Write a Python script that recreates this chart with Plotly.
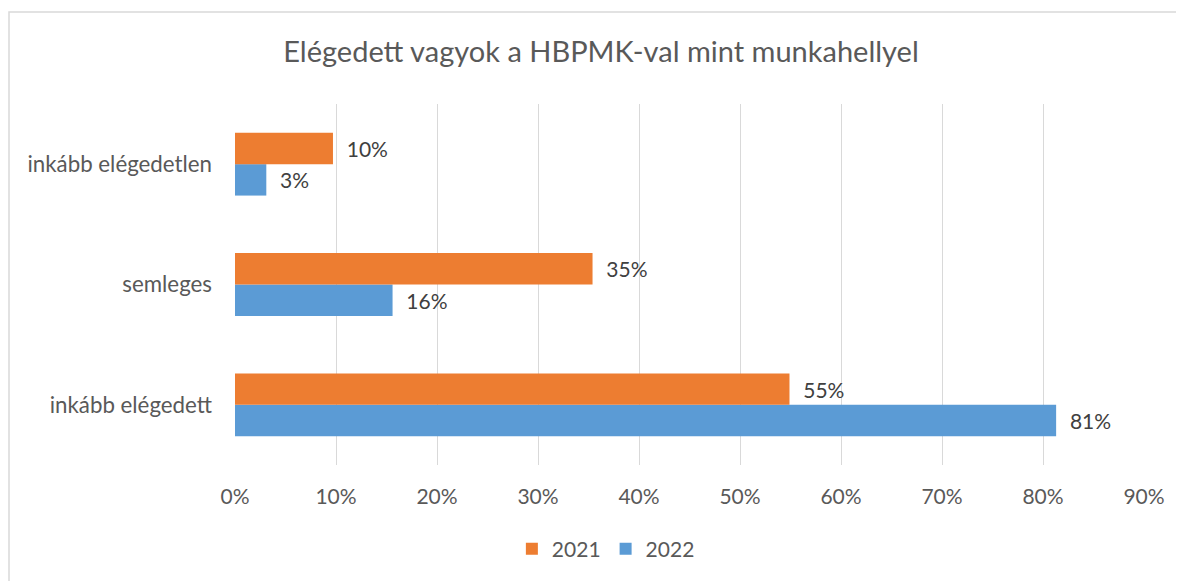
import plotly.graph_objects as go

categories = ["inkább elégedett", "semleges", "inkább elégedetlen"]
values_2021 = [0.549, 0.354, 0.097]
values_2022 = [0.813, 0.156, 0.031]
labels_2021 = ["55%", "35%", "10%"]
labels_2022 = ["81%", "16%", "3%"]
x_ticks = [0, 0.1, 0.2, 0.3, 0.4, 0.5, 0.6, 0.7, 0.8, 0.9]
x_tick_labels = ["0%", "10%", "20%", "30%", "40%", "50%", "60%", "70%", "80%", "90%"]

FONT = "Lato, Open Sans, sans-serif"
pad = "\u00a0\u00a0"
FS = 21

fig = go.Figure()
fig.add_trace(go.Bar(
    name="2022", y=categories, x=values_2022, orientation="h",
    marker=dict(color="#5B9BD5", line=dict(width=0)),
    text=[pad + t for t in labels_2022], textposition="outside",
    textfont=dict(size=FS, color="#404040", family=FONT), cliponaxis=False,
))
fig.add_trace(go.Bar(
    name="2021", y=categories, x=values_2021, orientation="h",
    marker=dict(color="#ED7D31", line=dict(width=0)),
    text=[pad + t for t in labels_2021], textposition="outside",
    textfont=dict(size=FS, color="#404040", family=FONT), cliponaxis=False,
))

fig.update_layout(
    width=1184, height=581,
    margin=dict(l=227, r=48, t=96, b=124),
    paper_bgcolor="white", plot_bgcolor="white",
    barmode="group", bargap=0.478, bargroupgap=0,
    font=dict(family=FONT, color="#595959", size=FS),
    title=dict(text="Elégedett vagyok a HBPMK-val mint munkahellyel",
               x=593/1184, xanchor="center", y=1-44/581, yanchor="middle",
               font=dict(size=29, color="#595959", family=FONT)),
    xaxis=dict(range=[0, 0.9], tickvals=x_ticks, ticktext=x_tick_labels,
               showgrid=True, gridcolor="#D9D9D9", gridwidth=1,
               zeroline=False, showline=False, ticks="",
               tickfont=dict(size=FS, color="#595959"), ticklabelstandoff=17),
    yaxis=dict(categoryorder="array", categoryarray=categories,
               showgrid=False, zeroline=False, showline=False, ticks="",
               tickfont=dict(size=22.3, color="#595959"), ticklabelstandoff=22),
    legend=dict(orientation="h", x=0.408, xanchor="center", y=-0.233, yanchor="middle",
                traceorder="reversed", font=dict(size=FS, color="#595959"),
                itemclick=False),
    showlegend=True,
    shapes=[dict(type="rect", xref="paper", yref="paper",
                 x0=-(227-1)/909, x1=1.2, y0=-1, y1=1+(96-4)/361,
                 line=dict(color="#D9D9D9", width=1.5), fillcolor="rgba(0,0,0,0)", layer="below")],
)

fig.write_html("out.html")
